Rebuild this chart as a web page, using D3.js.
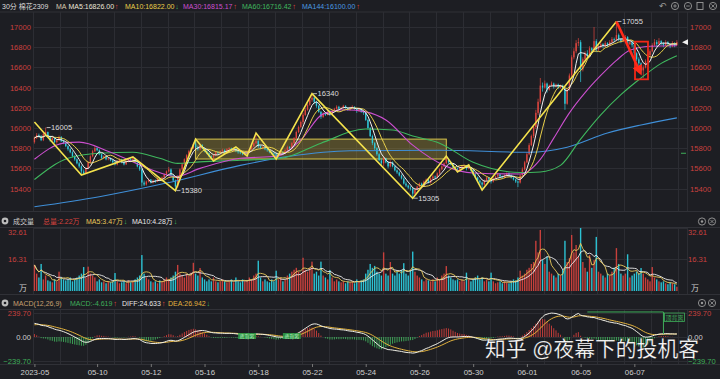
<!DOCTYPE html>
<html>
<head>
<meta charset="utf-8">
<script src="https://cdn.jsdelivr.net/npm/d3@7/dist/d3.min.js"></script>
<style>
  html, body { margin: 0; padding: 0; background: #1d1e23; overflow: hidden; }
  svg { display: block; }
  text { font-family: "Liberation Sans", "Noto Sans CJK SC", sans-serif; }
</style>
</head>
<body>
<svg id="chart" width="720" height="379"></svg>
<script>
// ---- data: 30分 棉花2309, 12 bars per trading day (4 night + 8 day) ----
const dateLabels = ["2023-05", "05-10", "05-12", "05-16", "05-18", "05-22", "05-24", "05-26", "05-30", "06-01", "06-05", "06-07"];
const dateLabelBars = [0, 28, 52, 76, 100, 124, 148, 172, 196, 220, 244, 268];

const opens = [
  15860,15900,15930,15920,15880,15940,15960,15910,15880,15900,15860,15880,
  15910,15870,15850,15820,15790,15760,15720,15690,15650,15620,15570,15550,
  15600,15660,15720,15770,15800,15780,15740,15700,15720,15690,15700,15680,
  15660,15640,15670,15690,15660,15640,15670,15690,15680,15700,15660,15620,
  15590,15460,15440,15470,15490,15460,15480,15470,15500,15490,15510,15540,
  15570,15590,15530,15480,15420,15520,15590,15640,15690,15730,15770,15800,
  15840,15810,15790,15830,15800,15770,15750,15720,15710,15730,15760,15750,
  15770,15780,15760,15790,15800,15780,15790,15770,15760,15750,15740,15750,
  15760,15790,15820,15850,15870,15820,15800,15810,15790,15780,15760,15750,
  15740,15720,15740,15760,15750,15780,15810,15800,15850,15900,15960,16010,
  16060,16130,16180,16230,16280,16300,16260,16220,16160,16110,16140,16130,
  16160,16140,16170,16190,16210,16190,16200,16220,16200,16180,16200,16210,
  16190,16170,16190,16160,16150,16080,16000,15920,15850,15800,15740,15680,
  15650,15700,15660,15620,15660,15620,15580,15560,15530,15500,15450,15430,
  15410,15400,15350,15390,15420,15450,15430,15470,15490,15460,15500,15520,
  15510,15550,15590,15620,15650,15690,15660,15640,15610,15600,15590,15610,
  15620,15630,15600,15610,15580,15540,15510,15480,15460,15440,15480,15510,
  15490,15470,15500,15520,15540,15520,15510,15530,15550,15530,15510,15490,
  15470,15460,15530,15590,15660,15740,15830,15920,16010,16150,16260,16420,
  16400,16440,16380,16420,16440,16410,16430,16400,16420,16390,16240,16380,
  16520,16700,16760,16840,16850,16580,16680,16740,16720,16790,16770,16860,
  16780,16800,16830,16810,16840,16820,16850,16880,16870,16920,16880,16860,
  16880,16900,16830,16850,16820,16740,16680,16640,16570,16600,16660,16720,
  16760,16820,16850,16830,16860,16840,16820,16850,16830,16810,16840,16820
];
const highs = [
  15915,15950,15945,15930,15955,16005,15965,15925,15910,15905,15890,15925,
  15920,15885,15860,15830,15800,15770,15730,15700,15665,15630,15590,15610,
  15670,15730,15785,15820,15810,15790,15750,15730,15725,15710,15710,15690,
  15675,15680,15700,15695,15670,15680,15700,15700,15713,15705,15670,15630,
  15600,15480,15480,15500,15495,15490,15490,15510,15505,15520,15550,15580,
  15615,15600,15540,15490,15530,15600,15655,15700,15740,15785,15810,15855,
  15890,15825,15845,15840,15810,15780,15760,15730,15745,15770,15770,15780,
  15795,15790,15800,15810,15805,15800,15812,15780,15770,15760,15760,15775,
  15800,15830,15860,15950,15880,15830,15820,15815,15800,15790,15770,15760,
  15760,15750,15775,15770,15790,15825,15820,15860,15910,15975,16025,16075,
  16150,16200,16245,16300,16340,16310,16270,16230,16170,16155,16150,16175,
  16180,16180,16200,16225,16220,16210,16230,16225,16205,16210,16225,16215,
  16200,16200,16195,16170,16160,16090,16010,15935,15860,15810,15750,15700,
  15715,15705,15670,15680,15670,15630,15590,15570,15540,15510,15470,15440,
  15425,15410,15400,15430,15460,15460,15480,15500,15495,15510,15540,15530,
  15560,15600,15630,15660,15723,15700,15670,15650,15620,15610,15615,15630,
  15640,15632,15634,15615,15590,15550,15520,15490,15470,15490,15520,15515,
  15500,15510,15530,15555,15550,15530,15540,15560,15560,15540,15520,15500,
  15480,15540,15610,15675,15760,15850,15935,16030,16180,16290,16495,16450,
  16470,16450,16430,16460,16450,16440,16440,16430,16430,16400,16390,16540,
  16720,16790,16870,16890,16870,16700,16760,16770,16810,16800,17000,16880,
  16820,16850,16840,16860,16850,16870,16900,16895,17055,16935,16890,16895,
  16920,16910,16870,16860,16830,16750,16700,16650,16620,16680,16735,16780,
  16840,16880,16870,16890,16870,16850,16870,16860,16840,16860,16850,16870
];
const lows = [
  15845,15890,15905,15870,15870,15930,15900,15865,15870,15850,15845,15870,
  15860,15840,15810,15775,15750,15710,15675,15640,15605,15535,15540,15545,
  15590,15650,15710,15760,15770,15730,15690,15695,15680,15680,15670,15650,
  15630,15630,15660,15650,15630,15635,15660,15670,15675,15650,15610,15575,
  15420,15425,15430,15460,15450,15450,15455,15465,15480,15485,15500,15530,
  15560,15520,15465,15380,15410,15510,15580,15630,15680,15720,15760,15790,
  15800,15775,15780,15790,15760,15740,15710,15695,15673,15720,15740,15740,
  15760,15750,15750,15780,15770,15770,15760,15745,15740,15730,15730,15723,
  15750,15780,15810,15840,15800,15790,15790,15780,15765,15750,15740,15725,
  15693,15710,15730,15740,15740,15770,15790,15790,15840,15890,15950,16000,
  16040,16120,16170,16220,16260,16240,16200,16150,16090,16100,16120,16125,
  16120,16130,16160,16180,16180,16180,16190,16190,16170,16170,16190,16180,
  16150,16160,16150,16130,16070,15985,15910,15830,15780,15725,15670,15630,
  15620,15650,15600,15610,15610,15570,15545,15520,15490,15440,15415,15395,
  15380,15305,15340,15380,15410,15420,15420,15460,15450,15450,15490,15495,
  15500,15540,15580,15610,15640,15650,15630,15600,15585,15564,15580,15600,
  15605,15580,15590,15570,15530,15500,15470,15440,15386,15430,15475,15480,
  15450,15460,15495,15510,15510,15500,15500,15520,15520,15500,15480,15455,
  15415,15450,15520,15580,15650,15730,15820,15900,15990,16130,16240,16360,
  16390,16350,16370,16410,16390,16400,16385,16390,16375,16180,16230,16370,
  16500,16680,16740,16810,16455,16560,16670,16700,16710,16740,16760,16750,
  16760,16790,16790,16800,16800,16810,16840,16850,16860,16860,16840,16850,
  16860,16810,16820,16800,16720,16660,16610,16540,16495,16590,16650,16700,
  16750,16810,16800,16820,16820,16800,16810,16810,16790,16800,16800,16815
];
const closes = [
  15900,15930,15920,15880,15940,15960,15910,15880,15900,15860,15880,15910,
  15870,15850,15820,15790,15760,15720,15690,15650,15620,15570,15550,15600,
  15660,15720,15770,15800,15780,15740,15700,15720,15690,15700,15680,15660,
  15640,15670,15690,15660,15640,15670,15690,15680,15700,15660,15620,15590,
  15460,15440,15470,15490,15460,15480,15470,15500,15490,15510,15540,15570,
  15590,15530,15480,15420,15520,15590,15640,15690,15730,15770,15800,15840,
  15810,15790,15830,15800,15770,15750,15720,15710,15730,15760,15750,15770,
  15780,15760,15790,15800,15780,15790,15770,15760,15750,15740,15750,15760,
  15790,15820,15850,15870,15820,15800,15810,15790,15780,15760,15750,15740,
  15720,15740,15760,15750,15780,15810,15800,15850,15900,15960,16010,16060,
  16130,16180,16230,16280,16300,16260,16220,16160,16110,16140,16130,16160,
  16140,16170,16190,16210,16190,16200,16220,16200,16180,16200,16210,16190,
  16170,16190,16160,16150,16080,16000,15920,15850,15800,15740,15680,15650,
  15700,15660,15620,15660,15620,15580,15560,15530,15500,15450,15430,15410,
  15400,15350,15390,15420,15450,15430,15470,15490,15460,15500,15520,15510,
  15550,15590,15620,15650,15690,15660,15640,15610,15600,15590,15610,15620,
  15630,15600,15610,15580,15540,15510,15480,15460,15440,15480,15510,15490,
  15470,15500,15520,15540,15520,15510,15530,15550,15530,15510,15490,15470,
  15460,15530,15590,15660,15740,15830,15920,16010,16150,16260,16420,16400,
  16440,16380,16420,16440,16410,16430,16400,16420,16390,16240,16380,16520,
  16700,16760,16840,16850,16580,16680,16740,16720,16790,16770,16860,16780,
  16800,16830,16810,16840,16820,16850,16880,16870,16920,16880,16860,16880,
  16900,16830,16850,16820,16740,16680,16640,16570,16600,16660,16720,16760,
  16820,16850,16830,16860,16840,16820,16850,16830,16810,16840,16820,16850
];
// volume, unit 万手
const volumes = [
  13.5,9,7,14,6,8,5.5,5,4.5,6,5,10,
  7,6,5.5,6,7,5,6,7,8,9,12.4,7,
  12.6,9,8,7,5,6,4.5,5,4,5,4.5,5,
  9.3,5,4,4.5,5,4,5.5,4.5,5,6,7,8,
  18.6,9,7,6,5,4.5,5,4,5.5,5,6,7,
  6,7,8,10,13.5,9,8,7,9,8,9.5,14.6,
  9,8,11.9,7,6,5,6,5,7,5,4.5,5,
  6,5,4.5,5,6,4.5,7,5,4.5,6,5,5.5,
  7,6,8,9,15.7,7,5,6,5,4.5,6,5,
  10.5,6,7,5,6,8,9,10,11,12,10,9,
  17.2,11,10,12,15.2,9,10,8,15.2,8,7,6,
  10.9,7,5,6,5,4.5,5,4,5,4.5,5,4,
  6,5,5.5,6,9,11,14,12,13,10,9,8,
  20,9,8,15,9,8,10,9,11,14.4,9,8,
  11,20.4,10,8,7,6,5,6,5.5,5,6,5,
  7,6,8,9,12.9,8,7,6,5.5,6,5,6,
  5,9.5,6,5,6,7,8,6,7,5,6,5,
  9.5,5,4,4.5,5,4,5,4.5,4,5,6,5.5,
  7,10.5,8,9,11,12,14,15,26,20,31.6,16,
  14,17.8,10,9,8,7,9,8,11,26,15,17,
  29,20,23.8,18,32.61,15,12,10,18.6,12,16,28,
  10,9,8,7,9,8,10,12,22.2,14,9,8,
  9,19,7,8,9,10,9,11.9,9,7,6,5,
  12.4,7,6,5,4.5,5,4,3.5,4.5,4,3.5,2.22
];

// long moving averages as [bar, value]
const ma30Points = [[0,15690],[13,15850],[20,15860],[34,15760],[52,15590],[63,15520],[74,15600],[92,15700],[108,15720],[119,15880],[129,16140],[139,16180],[148,16160],[157,16080],[169,15830],[184,15620],[196,15555],[217,15545],[226,15690],[232,15900],[239,16150],[246,16350],[253,16520],[260,16670],[266,16770],[275,16810],[287,16815]];
const ma60Points = [[0,15490],[15,15700],[29,15750],[44,15760],[56,15700],[64,15650],[74,15665],[92,15680],[110,15700],[128,15850],[148,15990],[160,15980],[169,15920],[181,15850],[196,15660],[217,15560],[226,15565],[235,15630],[244,15890],[253,16130],[262,16330],[271,16495],[280,16640],[287,16716]];
const ma144Points = [[0,15220],[29,15320],[59,15455],[92,15630],[114,15720],[141,15775],[181,15780],[221,15760],[238,15810],[256,15950],[271,16030],[287,16100]];

// swing line, consolidation box, marked extremes
const zigzag = [[0,16060],[21,15535],[44,15713],[63,15380],[72,15890],[80,15673],[90,15812],[95,15723],[99,15950],[108,15693],[124,16340],[169,15305],[184,15723],[189,15564],[194,15634],[200,15386],[260,17055]];
const boxCorners = [[72,15890],[184,15693]];
const extremes = [[5,16005],[63,15380],[124,16340],[169,15305],[260,17055]];
const arrowFromTo = [[260,17055],[270.5,16557]];
const redBox = [[268.3,16855],[274.1,16482]];

const priceTicks = [15400,15600,15800,16000,16200,16400,16600,16800,17000];
const volTicks = [16.31, 32.61];
const macdTicks = [239.70, 0, -239.70];
// EMA state at the first bar (MACD was already positive)
const macdSeed = { ema12: 15850, ema26: 15707, dea: 118 };
const divergence = [[247,250],[281,250],[281,30]];
const crossMarks = [[91,99],[111,119]];

// ---- layout ----
const W = 720, H = 379;
const N = closes.length;
const step = 2.2385;
const RED = "#e0463f", CYAN = "#2fcadb", GREEN = "#3fae5a";
const GRID = "#2c2d33";
const left = 33.3, right = 687;

const svg = d3.select("#chart");
svg.append("rect").attr("width", W).attr("height", H).attr("fill", "#1d1e23");

const xs = d3.scaleLinear().domain([0, N - 1]).range([left + step / 2, left + step / 2 + (N - 1) * step]);
const yP = d3.scaleLinear().domain([15400, 17000]).range([188.6, 27]);
const yV = d3.scaleLinear().domain([0, 32.61]).range([291, 228]);
const yM = d3.scaleLinear().domain([-239.7, 239.7]).range([361, 313]);

const defs = svg.append("defs");
function clip(id, y0, y1) {
  defs.append("clipPath").attr("id", id).append("rect")
    .attr("x", left).attr("y", y0).attr("width", right - left).attr("height", y1 - y0);
  return `url(#${id})`;
}
const clipP = clip("cp", 12, 210), clipV = clip("cv", 227, 293), clipM = clip("cm", 308, 364);
defs.append("marker").attr("id", "arr").attr("viewBox", "0 0 10 10").attr("refX", 6).attr("refY", 5)
  .attr("markerWidth", 4).attr("markerHeight", 4).attr("orient", "auto")
  .append("path").attr("d", "M0,0L10,5L0,10z").attr("fill", "#ff2a1a");

// panel separators
[12, 211.5, 227.5, 294.5, 309.5, 364.5].forEach(y => {
  svg.append("line").attr("x1", 0).attr("x2", W).attr("y1", y).attr("y2", y)
    .attr("stroke", "#303137").attr("stroke-width", 1);
});

// grids
const dayStarts = d3.range(0, N + 1, 12);
const gridG = svg.append("g").attr("stroke", GRID).attr("stroke-width", 1);
[[12, 211], [228, 294], [310, 364]].forEach(([a, b]) => {
  dayStarts.forEach(i => {
    const x = Math.round(xs(i) - step / 2) + 0.5;
    gridG.append("line").attr("x1", x).attr("x2", x).attr("y1", a).attr("y2", b);
  });
  gridG.append("line").attr("x1", right + 0.5).attr("x2", right + 0.5).attr("y1", a).attr("y2", b);
});
priceTicks.forEach(p => gridG.append("line").attr("x1", left).attr("x2", right)
  .attr("y1", Math.round(yP(p)) + 0.5).attr("y2", Math.round(yP(p)) + 0.5));
volTicks.forEach(v => gridG.append("line").attr("x1", left).attr("x2", right)
  .attr("y1", Math.round(yV(v)) + 0.5).attr("y2", Math.round(yV(v)) + 0.5));
macdTicks.forEach(v => gridG.append("line").attr("x1", left).attr("x2", right)
  .attr("y1", Math.round(yM(v)) + 0.5).attr("y2", Math.round(yM(v)) + 0.5));

// ---- price panel ----
const gp = svg.append("g").attr("clip-path", clipP);
// consolidation box
gp.append("rect")
  .attr("x", xs(boxCorners[0][0])).attr("y", yP(boxCorners[0][1]))
  .attr("width", xs(boxCorners[1][0]) - xs(boxCorners[0][0]))
  .attr("height", yP(boxCorners[1][1]) - yP(boxCorners[0][1]))
  .attr("fill", "rgba(190,168,60,0.33)").attr("stroke", "#d8c44c").attr("stroke-width", 1);

const idx = d3.range(N);
const up = i => closes[i] >= opens[i];
const bw = step * 0.62;
gp.selectAll("line.wick").data(idx).join("line")
  .attr("x1", i => xs(i)).attr("x2", i => xs(i))
  .attr("y1", i => yP(Math.max(highs[i], opens[i], closes[i])))
  .attr("y2", i => yP(Math.min(lows[i], opens[i], closes[i])))
  .attr("stroke", i => up(i) ? RED : CYAN).attr("stroke-width", 0.7);
gp.selectAll("rect.body").data(idx).join("rect")
  .attr("x", i => xs(i) - bw / 2).attr("width", bw)
  .attr("y", i => yP(Math.max(opens[i], closes[i])))
  .attr("height", i => Math.max(0.7, Math.abs(yP(opens[i]) - yP(closes[i]))))
  .attr("fill", i => up(i) ? RED : CYAN);

function sma(arr, n) {
  return arr.map((_, i) => {
    const s = arr.slice(Math.max(0, i - n + 1), i + 1);
    return d3.mean(s);
  });
}
const ma5 = sma(closes, 5), ma10 = sma(closes, 10);
const barLine = (scale) => d3.line().x((d, i) => xs(i)).y(d => scale(d));
const ptLine = d3.line().x(d => xs(d[0])).y(d => yP(d[1])).curve(d3.curveMonotoneX);

gp.append("path").attr("d", ptLine(ma144Points)).attr("fill", "none").attr("stroke", "#3f8fd8").attr("stroke-width", 1.1);
gp.append("path").attr("d", ptLine(ma60Points)).attr("fill", "none").attr("stroke", "#3fb85e").attr("stroke-width", 1.1);
gp.append("path").attr("d", ptLine(ma30Points)).attr("fill", "none").attr("stroke", "#cc4fcf").attr("stroke-width", 1.1);
gp.append("path").attr("d", barLine(yP)(ma10)).attr("fill", "none").attr("stroke", "#e8cf4a").attr("stroke-width", 1);
gp.append("path").attr("d", barLine(yP)(ma5)).attr("fill", "none").attr("stroke", "#f2f2f2").attr("stroke-width", 1);

// swing line
gp.append("path").attr("d", d3.line().x(d => xs(d[0])).y(d => yP(d[1]))(zigzag))
  .attr("fill", "none").attr("stroke", "#f4e24c").attr("stroke-width", 1.6).attr("stroke-linejoin", "miter");

// red annotation
gp.append("rect")
  .attr("x", xs(redBox[0][0])).attr("y", yP(redBox[0][1]))
  .attr("width", xs(redBox[1][0]) - xs(redBox[0][0]))
  .attr("height", yP(redBox[1][1]) - yP(redBox[0][1]))
  .attr("fill", "none").attr("stroke", "#f02818").attr("stroke-width", 1.8);
gp.append("line")
  .attr("x1", xs(arrowFromTo[0][0])).attr("y1", yP(arrowFromTo[0][1]))
  .attr("x2", xs(arrowFromTo[1][0])).attr("y2", yP(arrowFromTo[1][1]))
  .attr("stroke", "#ff2a1a").attr("stroke-width", 2.6).attr("marker-end", "url(#arr)");

// extreme labels
extremes.forEach(([i, p]) => {
  const x = xs(i), y = yP(p);
  svg.append("line").attr("x1", x + 1).attr("x2", x + 5).attr("y1", y).attr("y2", y)
    .attr("stroke", "#d8d8d8").attr("stroke-width", 0.8);
  svg.append("text").attr("x", x + 5.5).attr("y", y).attr("dy", "0.35em")
    .attr("font-size", 7.6).attr("fill", "#dcdcdc").text(p);
});

// current price marker and right-side green tick
const lastY = yP(closes[N - 1]);
svg.append("path").attr("d", `M${right - 5},${lastY}L${right + 1},${lastY - 2.8}L${right + 1},${lastY + 2.8}Z`).attr("fill", "#f0f0f0");
svg.append("line").attr("x1", right - 6).attr("x2", right - 1).attr("y1", yP(15750)).attr("y2", yP(15750))
  .attr("stroke", GREEN).attr("stroke-width", 1);

// price axes
function styleAxis(g, color) {
  g.select(".domain").remove();
  g.selectAll("text").attr("fill", color).attr("font-size", 7.6)
    .attr("font-family", "Liberation Sans, sans-serif");
}
svg.append("g").attr("transform", "translate(31,0)")
  .call(d3.axisLeft(yP).tickValues(priceTicks).tickSize(0).tickPadding(0).tickFormat(d3.format("d")))
  .call(g => styleAxis(g, "#c9413f"));
svg.append("g").attr("transform", "translate(690,0)")
  .call(d3.axisRight(yP).tickValues(priceTicks).tickSize(0).tickPadding(0).tickFormat(d3.format("d")))
  .call(g => styleAxis(g, "#c9413f"));

// ---- volume panel ----
const gv = svg.append("g").attr("clip-path", clipV);
gv.selectAll("rect").data(idx).join("rect")
  .attr("x", i => xs(i) - bw / 2).attr("width", bw)
  .attr("y", i => yV(volumes[i])).attr("height", i => yV(0) - yV(volumes[i]))
  .attr("fill", i => up(i) ? "#c8403c" : "#2cc2d3");
gv.append("path").attr("d", barLine(yV)(sma(volumes, 10))).attr("fill", "none").attr("stroke", "#eeeeee").attr("stroke-width", 0.9);
gv.append("path").attr("d", barLine(yV)(sma(volumes, 5))).attr("fill", "none").attr("stroke", "#e8c85a").attr("stroke-width", 0.9);

const volFmt = d3.format(".2f");
svg.append("g").attr("transform", "translate(27,0)")
  .call(d3.axisLeft(yV).tickValues(volTicks).tickSize(0).tickPadding(0).tickFormat(volFmt))
  .call(g => styleAxis(g, "#c9413f"))
  .call(g => g.selectAll(".tick").filter(d => d === 32.61).attr("transform", `translate(0,${yV(32.61) + 4.5})`));
svg.append("g").attr("transform", "translate(688,0)")
  .call(d3.axisRight(yV).tickValues(volTicks).tickSize(0).tickPadding(0).tickFormat(volFmt))
  .call(g => styleAxis(g, "#c9413f"))
  .call(g => g.selectAll(".tick").filter(d => d === 32.61).attr("transform", `translate(0,${yV(32.61) + 4.5})`));
svg.append("text").attr("x", 27).attr("y", 291).attr("text-anchor", "end").attr("font-size", 8).attr("fill", "#cfcfcf").text("万");
svg.append("text").attr("x", 691).attr("y", 291).attr("font-size", 8).attr("fill", "#cfcfcf").text("万");

// ---- MACD panel ----
const ema = (prev, v, n) => prev + (v - prev) * 2 / (n + 1);
let e12 = macdSeed.ema12, e26 = macdSeed.ema26, dea = macdSeed.dea;
const diffs = [], deas = [], hist = [];
closes.forEach(c => {
  e12 = ema(e12, c, 12); e26 = ema(e26, c, 26);
  const d = e12 - e26; dea = ema(dea, d, 9);
  diffs.push(d); deas.push(dea); hist.push(2 * (d - dea));
});
const gm = svg.append("g").attr("clip-path", clipM);
gm.selectAll("line").data(idx).join("line")
  .attr("x1", i => xs(i)).attr("x2", i => xs(i))
  .attr("y1", yM(0)).attr("y2", i => yM(hist[i]))
  .attr("stroke", i => hist[i] >= 0 ? "#d0403c" : GREEN).attr("stroke-width", 0.9);
gm.append("path").attr("d", barLine(yM)(deas)).attr("fill", "none").attr("stroke", "#e2b23e").attr("stroke-width", 1);
gm.append("path").attr("d", barLine(yM)(diffs)).attr("fill", "none").attr("stroke", "#efefe6").attr("stroke-width", 1);

// signal marks
crossMarks.forEach(([a, b]) => {
  gm.append("rect").attr("x", xs(a)).attr("y", yM(40)).attr("width", xs(b) - xs(a)).attr("height", yM(-20) - yM(40))
    .attr("fill", "#2e9a45").attr("opacity", 0.9);
  gm.append("text").attr("x", (xs(a) + xs(b)) / 2).attr("y", yM(10)).attr("dy", "0.35em").attr("text-anchor", "middle")
    .attr("font-size", 4.8).attr("fill", "#bdf0c8").text("底背离");
});
svg.append("path").attr("d", d3.line().x(d => xs(d[0])).y(d => yM(d[1]))(divergence))
  .attr("fill", "none").attr("stroke", GREEN).attr("stroke-width", 1);
svg.append("rect").attr("x", xs(281) + 1).attr("y", 313).attr("width", 20).attr("height", 8.5)
  .attr("fill", "none").attr("stroke", GREEN).attr("stroke-width", 0.8);
svg.append("text").attr("x", xs(281) + 11).attr("y", 317.5).attr("dy", "0.35em").attr("text-anchor", "middle")
  .attr("font-size", 6).attr("fill", GREEN).text("顶背离");

const macdFmt = d3.format(".2f");
const macdColor = d => d > 0 ? "#c9413f" : d < 0 ? GREEN : "#d0d0d0";
svg.append("g").attr("transform", "translate(31,0)")
  .call(d3.axisLeft(yM).tickValues(macdTicks).tickSize(0).tickPadding(0).tickFormat(macdFmt))
  .call(g => styleAxis(g, "#ccc"))
  .call(g => g.selectAll("text").attr("fill", macdColor));
svg.append("g").attr("transform", "translate(688,0)")
  .call(d3.axisRight(yM).tickValues(macdTicks).tickSize(0).tickPadding(0).tickFormat(macdFmt))
  .call(g => styleAxis(g, "#ccc"))
  .call(g => g.selectAll("text").attr("fill", macdColor));

// ---- time axis ----
const xAxis = d3.axisBottom(xs).tickValues(dateLabelBars).tickSize(3).tickPadding(2)
  .tickFormat((d, k) => dateLabels[k]);
svg.append("g").attr("transform", "translate(0,364)").call(xAxis)
  .call(g => { g.select(".domain").remove(); g.selectAll("line").attr("stroke", "#777"); })
  .call(g => g.selectAll("text").attr("fill", "#cfcfcf").attr("font-size", 7.8)
    .attr("font-family", "Liberation Sans, sans-serif"));

// ---- header rows: each part starts at its x, arrows follow the measured text ----
function header(y, parts, size) {
  let prevEnd = 0;
  parts.forEach(([t, x, c]) => {
    const isArrow = t === "↑" || t === "↓";
    const tx = isArrow ? prevEnd + 0.8 : Math.max(x, prevEnd + 2);
    const node = svg.append("text").attr("x", tx).attr("y", y)
      .attr("font-size", isArrow ? size + 0.5 : size).attr("fill", c).text(t);
    if (isArrow) node.attr("font-family", "DejaVu Sans, sans-serif");
    prevEnd = tx + node.node().getComputedTextLength();
  });
}
header(9, [
  ["30分", 1, "#dddddd"], ["棉花2309", 15, "#dddddd"],
  ["MA", 56, "#d8ccb0"], ["MA5:16826.00", 67, "#ece6da"], ["↑", 0, RED],
  ["MA10:16822.00", 125, "#e8cf4a"], ["↓", 0, GREEN],
  ["MA30:16815.17", 183, "#cc4fcf"], ["↑", 0, RED],
  ["MA60:16716.42", 242, "#3fb85e"], ["↑", 0, RED],
  ["MA144:16100.00", 302, "#4a9ae0"], ["↑", 0, RED]
], 7.0);
header(224, [
  ["成交量", 13, "#cccccc"], ["总量:2.22万", 43, "#d8433e"],
  ["MA5:3.47万", 86, "#e8c85a"], ["↓", 0, GREEN],
  ["MA10:4.28万", 132, "#e6e6e6"], ["↓", 0, GREEN]
], 7.0);
header(306, [
  ["MACD(12,26,9)", 13, "#c8a070"], ["MACD:-4.619", 70, GREEN], ["↑", 0, RED],
  ["DIFF:24.633", 122, "#e6e6e6"], ["↑", 0, RED],
  ["DEA:26.942", 168, "#e2b23e"], ["↓", 0, GREEN]
], 7.0);

// small icons
function eye(x, y) {
  svg.append("circle").attr("cx", x).attr("cy", y).attr("r", 3.4).attr("fill", "#bdbdbd");
  svg.append("circle").attr("cx", x).attr("cy", y).attr("r", 1.3).attr("fill", "#1d1e23");
}
eye(5, 221); eye(5, 303);
function ring(x, y, inner) {
  svg.append("circle").attr("cx", x).attr("cy", y).attr("r", 3.6).attr("fill", "none").attr("stroke", "#9a9a9a").attr("stroke-width", 0.9);
  if (inner === "dot") svg.append("circle").attr("cx", x).attr("cy", y).attr("r", 1.2).attr("fill", "#9a9a9a");
  if (inner === "x") svg.append("path").attr("d", `M${x-1.6},${y-1.6}L${x+1.6},${y+1.6}M${x+1.6},${y-1.6}L${x-1.6},${y+1.6}`).attr("stroke", "#9a9a9a").attr("stroke-width", 0.8);
  if (inner === "plus") svg.append("path").attr("d", `M${x-1.8},${y}H${x+1.8}M${x},${y-1.8}V${y+1.8}`).attr("stroke", "#9a9a9a").attr("stroke-width", 0.8);
  if (inner === "minus") svg.append("path").attr("d", `M${x-1.8},${y}H${x+1.8}`).attr("stroke", "#9a9a9a").attr("stroke-width", 0.8);
}
svg.append("text").attr("x", 663).attr("y", 9).attr("text-anchor", "middle").attr("font-size", 8.5)
  .attr("font-family", "DejaVu Sans, sans-serif").attr("fill", "#9a9a9a").text("↶");
ring(675, 6, "plus"); ring(688, 6, "minus");
svg.append("rect").attr("x", 697).attr("y", 2.5).attr("width", 6).attr("height", 7).attr("fill", "none").attr("stroke", "#9a9a9a").attr("stroke-width", 0.9);
ring(713, 6, "x");
ring(702, 221.5, "dot"); ring(712, 221.5, "x");
ring(702, 303, "dot"); ring(712, 303, "x");

// watermark
svg.append("text").attr("x", 485).attr("y", 356)
  .attr("font-family", "Noto Sans CJK SC, sans-serif").attr("font-size", 21)
  .attr("textLength", 214).attr("lengthAdjust", "spacingAndGlyphs")
  .attr("fill", "#ffffff").attr("stroke", "rgba(0,0,0,0.35)").attr("stroke-width", 0.6)
  .text("知乎 @夜幕下的投机客");
</script>
</body>
</html>
